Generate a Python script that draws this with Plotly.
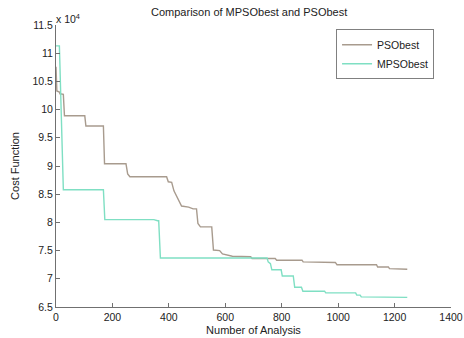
import plotly.graph_objects as go

# Data (cost values in units of 10^4, as on the axis)
pso_iter = [0, 3, 12, 14, 26, 30, 102, 106, 168, 172, 248, 254, 262, 392, 398, 410, 418, 430, 445,
            470, 486, 498, 503, 512, 552, 558, 580, 590, 605, 625, 690, 695, 777, 782, 872, 876,
            990, 996, 1136, 1140, 1178, 1182, 1245]
pso_cost = [10.76, 10.33, 10.31, 10.28, 10.27, 9.89, 9.89, 9.71, 9.71, 9.04, 9.04, 8.86, 8.81, 8.81,
            8.72, 8.71, 8.56, 8.43, 8.29, 8.27, 8.24, 8.24, 7.98, 7.92, 7.92, 7.51, 7.50, 7.44, 7.42,
            7.40, 7.39, 7.36, 7.36, 7.33, 7.33, 7.30, 7.29, 7.25, 7.25, 7.21, 7.21, 7.18, 7.17]

mpso_iter = [0, 12, 26, 168, 173, 347, 360, 364, 370, 748, 752, 760, 765, 798, 802, 841, 846, 870,
             875, 952, 956, 1062, 1066, 1078, 1082, 1132, 1136, 1245]
mpso_cost = [11.13, 11.13, 8.58, 8.58, 8.05, 8.05, 8.03, 8.03, 7.37, 7.37, 7.30, 7.27, 7.16, 7.16,
             7.05, 7.05, 6.85, 6.85, 6.78, 6.78, 6.75, 6.75, 6.71, 6.71, 6.68, 6.68, 6.67, 6.67]

x_ticks = [0, 200, 400, 600, 800, 1000, 1200, 1400]
y_ticks = [6.5, 7, 7.5, 8, 8.5, 9, 9.5, 10, 10.5, 11, 11.5]
y_tick_labels = ["6.5", "7", "7.5", "8", "8.5", "9", "9.5", "10", "10.5", "11", "11.5"]

FONT = "Liberation Sans, Arial, sans-serif"
AX = "#707070"

fig = go.Figure()
fig.add_trace(go.Scatter(x=pso_iter, y=pso_cost, mode="lines", name="PSObest",
                         line=dict(color="#a89b8e", width=1.4)))
fig.add_trace(go.Scatter(x=mpso_iter, y=mpso_cost, mode="lines", name="MPSObest",
                         line=dict(color="#7fdfc3", width=1.4)))

fig.update_layout(
    width=464, height=338,
    margin=dict(l=56, r=13, t=25, b=31),
    paper_bgcolor="white", plot_bgcolor="white",
    font=dict(family=FONT, size=10, color="#222"),
    title=dict(text="Comparison of MPSObest and PSObest", x=0.537, xanchor="center",
               y=0.964, yanchor="middle", font=dict(size=11, color="#222")),
    showlegend=True,
    legend=dict(x=0.709, y=0.985, xanchor="left", yanchor="top",
                bordercolor="#808080", borderwidth=1, bgcolor="white",
                font=dict(size=10.5, color="#222"), tracegroupgap=0,
                itemwidth=30),
    xaxis=dict(range=[0, 1400], tickvals=x_ticks, ticks="inside", ticklen=4,
               tickcolor=AX, showline=True, linecolor=AX, linewidth=1, mirror=False,
               showgrid=False, zeroline=False, tickfont=dict(size=10.5), automargin=False,
               title=dict(text="Number of Analysis", font=dict(size=11), standoff=4)),
    yaxis=dict(range=[6.5, 11.5], tickvals=y_ticks, ticktext=y_tick_labels, ticks="inside",
               ticklen=4, tickcolor=AX, showline=True, linecolor=AX, linewidth=1, mirror=False,
               showgrid=False, zeroline=False, tickfont=dict(size=10.5), automargin=False,
               title=dict(text="Cost Function", font=dict(size=11), standoff=10)),
    annotations=[dict(text="x 10<sup>4</sup>", xref="paper", yref="paper", x=0.0, y=1.0,
                      xanchor="left", yanchor="bottom", showarrow=False,
                      font=dict(size=10.5, color="#222"), xshift=-2, yshift=-2)],
)

# remove the default 8px page margin so the 464x338 figure fills the window exactly
fig.write_html("out.html", config={"displayModeBar": False},
               post_script="document.body.style.margin='0';")
